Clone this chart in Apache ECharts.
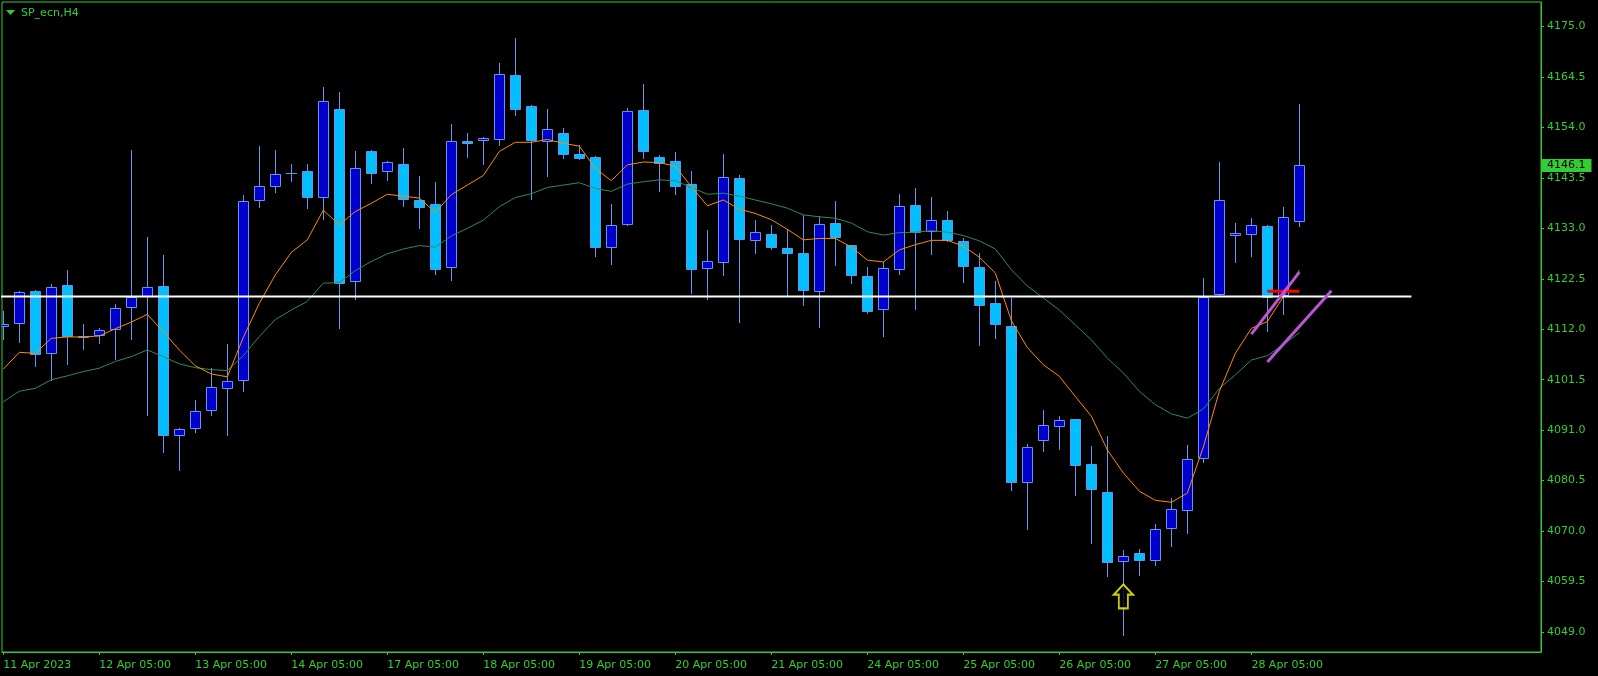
<!DOCTYPE html>
<html>
<head>
<meta charset="utf-8">
<script src="https://cdn.jsdelivr.net/npm/echarts@6/dist/echarts.min.js"></script>
<style>
html,body{margin:0;padding:0;background:#000;}
#chart{width:1598px;height:676px;}
</style>
</head>
<body>
<div id="chart"></div>
<script>
// ---- data ----
const dateLabels = ["11 Apr 2023","12 Apr 05:00","13 Apr 05:00","14 Apr 05:00","17 Apr 05:00","18 Apr 05:00","19 Apr 05:00","20 Apr 05:00","21 Apr 05:00","24 Apr 05:00","25 Apr 05:00","26 Apr 05:00","27 Apr 05:00","28 Apr 05:00"];
const barsPerLabel = 6;
const yTicks = [4049.0,4059.5,4070.0,4080.5,4091.0,4101.5,4112.0,4122.5,4133.0,4143.5,4154.0,4164.5,4175.0];
const currentPrice = 4146.1;

const opens = [4112.6,4113.3,4119.9,4107.0,4121.2,4110.6,4110.8,4112.0,4116.7,4119.0,4121.0,4090.0,4091.4,4095.2,4099.7,4101.4,4138.8,4141.8,4144.5,4144.9,4139.6,4157.8,4122.0,4149.1,4144.9,4146.3,4138.8,4138.0,4124.9,4151.2,4151.3,4151.5,4164.9,4158.4,4151.1,4152.8,4148.4,4147.8,4129.1,4133.9,4157.6,4147.8,4147.0,4142.2,4124.7,4126.0,4143.4,4130.5,4131.8,4128.9,4127.8,4119.9,4134.1,4129.5,4123.0,4116.2,4124.5,4137.8,4132.5,4134.7,4130.4,4124.9,4117.4,4112.6,4080.3,4088.9,4091.8,4093.3,4084.0,4078.2,4063.8,4065.4,4064.0,4070.6,4074.4,4085.2,4119.3,4131.6,4131.8,4133.4,4119.2,4134.5];
const highs = [4115.8,4120.0,4120.2,4121.5,4124.4,4113.1,4112.2,4117.3,4149.4,4131.1,4127.5,4091.5,4097.3,4104.0,4109.0,4140.0,4150.1,4149.3,4146.4,4146.4,4162.5,4161.4,4149.1,4149.3,4147.0,4149.7,4143.9,4142.7,4154.7,4152.9,4152.0,4167.4,4172.6,4158.6,4157.8,4153.9,4150.4,4148.1,4138.1,4158.1,4163.0,4148.2,4148.9,4144.9,4132.7,4148.5,4144.0,4134.8,4133.7,4132.9,4135.7,4135.6,4138.7,4129.6,4124.9,4126.1,4140.2,4141.3,4139.5,4136.6,4130.9,4127.9,4122.1,4118.6,4088.1,4095.2,4094.0,4093.4,4087.8,4089.7,4066.1,4066.3,4071.5,4076.9,4088.0,4122.6,4146.8,4134.1,4135.2,4133.7,4137.5,4158.9];
const lows = [4110.0,4109.4,4104.4,4101.5,4104.8,4107.9,4109.2,4105.8,4110.0,4094.1,4086.4,4082.8,4090.7,4094.1,4090.1,4099.1,4137.5,4140.6,4142.9,4137.3,4135.0,4112.2,4118.3,4142.5,4143.1,4137.7,4133.0,4123.4,4122.3,4147.9,4146.3,4150.4,4156.5,4139.2,4143.8,4147.7,4147.5,4127.3,4125.5,4133.6,4147.7,4140.8,4140.2,4119.6,4118.3,4123.2,4113.6,4127.8,4128.6,4119.0,4117.1,4112.4,4125.3,4121.7,4115.3,4110.5,4123.5,4116.3,4127.6,4130.3,4121.9,4108.8,4110.1,4078.6,4070.4,4086.6,4087.0,4077.6,4067.6,4060.6,4048.4,4060.8,4062.9,4067.0,4069.5,4084.3,4119.0,4125.9,4127.3,4111.7,4115.1,4133.4];
const closes = [4113.0,4119.7,4106.8,4120.8,4110.7,4110.4,4111.8,4116.4,4118.8,4120.8,4090.0,4091.2,4095.0,4099.9,4101.2,4138.6,4141.8,4144.3,4144.5,4139.6,4159.6,4121.7,4145.5,4144.6,4146.8,4139.2,4137.5,4124.6,4151.1,4150.7,4151.7,4165.1,4157.9,4151.3,4153.6,4148.4,4147.6,4129.2,4133.6,4157.4,4149.0,4146.7,4141.8,4124.5,4126.2,4143.6,4130.7,4132.2,4129.1,4127.8,4120.1,4133.9,4131.1,4123.2,4115.7,4124.7,4137.6,4132.3,4134.7,4130.5,4125.1,4117.1,4113.0,4080.2,4087.5,4092.1,4093.1,4083.7,4078.7,4063.6,4064.8,4064.0,4070.4,4074.6,4085.0,4118.7,4138.8,4132.0,4133.6,4118.8,4135.3,4146.1];

const maFast = [4103.7,4107.2,4107.0,4110.1,4110.4,4110.4,4110.6,4112.1,4113.5,4115.1,4111.5,4107.7,4104.4,4102.7,4102.1,4110.3,4117.4,4123.3,4128.0,4130.6,4136.8,4133.7,4136.5,4138.2,4140.1,4139.7,4139.3,4136.3,4140.0,4142.0,4144.0,4149.0,4150.9,4150.9,4151.5,4150.7,4150.1,4145.5,4142.9,4146.2,4146.8,4146.7,4145.9,4141.7,4137.7,4138.9,4137.0,4136.1,4134.8,4132.8,4130.6,4130.9,4130.9,4129.1,4126.4,4126.0,4128.5,4129.6,4130.5,4130.5,4129.3,4127.0,4123.7,4113.8,4108.2,4104.6,4102.2,4098.0,4093.9,4086.9,4082.1,4078.3,4076.4,4076.0,4077.9,4087.5,4099.1,4107.0,4112.2,4113.6,4118.8,4124.3];
const maSlow = [4096.9,4099.1,4099.7,4101.5,4102.3,4103.2,4103.9,4105.3,4106.3,4107.7,4106.3,4104.8,4104.0,4103.6,4103.4,4106.5,4110.5,4114.0,4116.0,4117.8,4121.6,4121.7,4124.2,4126.1,4127.7,4128.7,4129.4,4129.1,4131.4,4133.0,4134.7,4137.5,4139.4,4140.2,4141.5,4142.0,4142.5,4141.3,4140.7,4142.2,4142.7,4143.1,4142.9,4141.5,4140.1,4140.3,4139.7,4138.9,4138.1,4137.2,4135.8,4135.4,4135.1,4134.1,4132.3,4131.6,4132.1,4132.2,4132.5,4132.2,4131.5,4130.4,4128.7,4124.4,4121.0,4118.5,4116.0,4112.9,4109.8,4106.0,4102.9,4099.1,4096.3,4094.4,4093.5,4095.4,4099.7,4102.5,4105.6,4106.5,4108.8,4111.3];

// drawn objects (bar index, price)
const whiteLine = [[-1, 4118.8], [88, 4118.8]];
const redLine = [[79, 4119.9], [81, 4119.9]];
const purpleLine1 = [[78, 4111.0], [81, 4123.9]];
const purpleLine2 = [[79, 4105.2], [83, 4120.0]];
const arrowPoint = [[70, 4056.4]];

// ---- chart ----
const GREEN = '#32CD32';
const FONT = 'DejaVu Sans';
const Y_MIN = 4044.84, Y_MAX = 4180.10;
const candleData = opens.map((o, i) => [i, o, closes[i], lows[i], highs[i]]);
const idx = a => a.map((v, i) => [i, v]);
const labelIdx = dateLabels.map((_, k) => k * barsPerLabel);

function renderCandle(params, api) {
  const i = api.value(0), o = api.value(1), c = api.value(2), l = api.value(3), h = api.value(4);
  const pO = api.coord([i, o]), pC = api.coord([i, c]), pL = api.coord([i, l]), pH = api.coord([i, h]);
  const x = Math.round(pO[0]);
  const top = Math.round(Math.min(pO[1], pC[1]));
  const bot = Math.round(Math.max(pO[1], pC[1]));
  const bull = c >= o;
  const ch = [{
    type: 'line',
    shape: {x1: x + 0.5, y1: Math.round(pH[1]), x2: x + 0.5, y2: Math.round(pL[1]) + 1},
    style: {stroke: '#6495ED', lineWidth: 1}
  }];
  if (bot - top < 1) {
    ch.push({type: 'line', shape: {x1: x - 5, y1: top + 0.5, x2: x + 6, y2: top + 0.5},
      style: {stroke: '#6495ED', lineWidth: 1}});
  } else {
    ch.push({type: 'rect', shape: {x: x - 5 + 0.5, y: top + 0.5, width: 10, height: bot - top},
      style: {fill: bull ? '#0000CD' : '#00BFFF', stroke: '#6495ED', lineWidth: 1}});
  }
  return {type: 'group', children: ch};
}

const chart = echarts.init(document.getElementById('chart'), null, {renderer: 'canvas'});
chart.setOption({
  backgroundColor: '#000',
  animation: false,
  title: {
    text: 'SP_ecn,H4', left: 21, top: 8, padding: 0,
    textStyle: {color: GREEN, fontSize: 11, fontWeight: 'normal', fontFamily: FONT}
  },
  graphic: [{type: 'polygon', shape: {points: [[6, 10], [15, 10], [10.5, 15]]}, style: {fill: GREEN}}],
  grid: {left: 2, top: 2, width: 1539, height: 650, show: true, borderColor: GREEN, borderWidth: 1, backgroundColor: '#000'},
  xAxis: {
    type: 'value', min: -0.08, max: 96.1, position: 'bottom',
    axisLine: {show: true, onZero: false, lineStyle: {color: GREEN}},
    axisTick: {show: true, length: 3, customValues: labelIdx, lineStyle: {color: GREEN}},
    axisLabel: {
      customValues: labelIdx, align: 'left', margin: 8,
      color: GREEN, fontSize: 11, fontFamily: FONT,
      formatter: v => dateLabels[Math.round(v / barsPerLabel)] || ''
    },
    splitLine: {show: false}
  },
  yAxis: {
    type: 'value', position: 'right', min: Y_MIN, max: Y_MAX,
    axisLine: {show: true, onZero: false, lineStyle: {color: GREEN}},
    axisTick: {show: true, length: 3, customValues: yTicks, lineStyle: {color: GREEN}},
    axisLabel: {
      customValues: yTicks.concat([currentPrice]), margin: 1,
      formatter: v => (Math.abs(v - currentPrice) < 1e-6 ? '{cur|' : '{n|') + v.toFixed(1) + '}',
      rich: {
        n: {color: GREEN, fontSize: 11, fontFamily: FONT, padding: [0, 0, 0, 5]},
        cur: {color: '#000', backgroundColor: GREEN, fontSize: 11, fontFamily: FONT, padding: [1, 6, 1, 5]}
      }
    },
    splitLine: {show: false}
  },
  series: [
    {type: 'custom', name: 'candles', renderItem: renderCandle, data: candleData,
     encode: {x: 0, y: [1, 2, 3, 4]}, clip: true, z: 2},
    {type: 'line', name: 'MA slow', data: idx(maSlow), showSymbol: false, symbol: 'none',
     lineStyle: {color: '#2E8B57', width: 1}, z: 3},
    {type: 'line', name: 'MA fast', data: idx(maFast), showSymbol: false, symbol: 'none',
     lineStyle: {color: '#FF8C00', width: 1}, z: 4},
    {type: 'line', name: 'level', data: whiteLine, showSymbol: false, symbol: 'none',
     lineStyle: {color: '#FFFFFF', width: 2}, z: 5, clip: true},
    {type: 'line', name: 'red', data: redLine, showSymbol: false, symbol: 'none',
     lineStyle: {color: '#FF0000', width: 3}, z: 6},
    {type: 'line', name: 'trend1', data: purpleLine1, showSymbol: false, symbol: 'none',
     lineStyle: {color: '#BA55D3', width: 3}, z: 7},
    {type: 'line', name: 'trend2', data: purpleLine2, showSymbol: false, symbol: 'none',
     lineStyle: {color: '#BA55D3', width: 3}, z: 7},
    {type: 'scatter', name: 'arrow', data: arrowPoint,
     symbol: 'path://M10.5,0 L21,11 L15.5,11 L15.5,26 L5.5,26 L5.5,11 L0,11 Z',
     symbolSize: [19, 24], symbolKeepAspect: false,
     itemStyle: {color: '#000', borderColor: '#FFFF00', borderWidth: 2}, z: 8}
  ]
});
</script>
</body>
</html>
